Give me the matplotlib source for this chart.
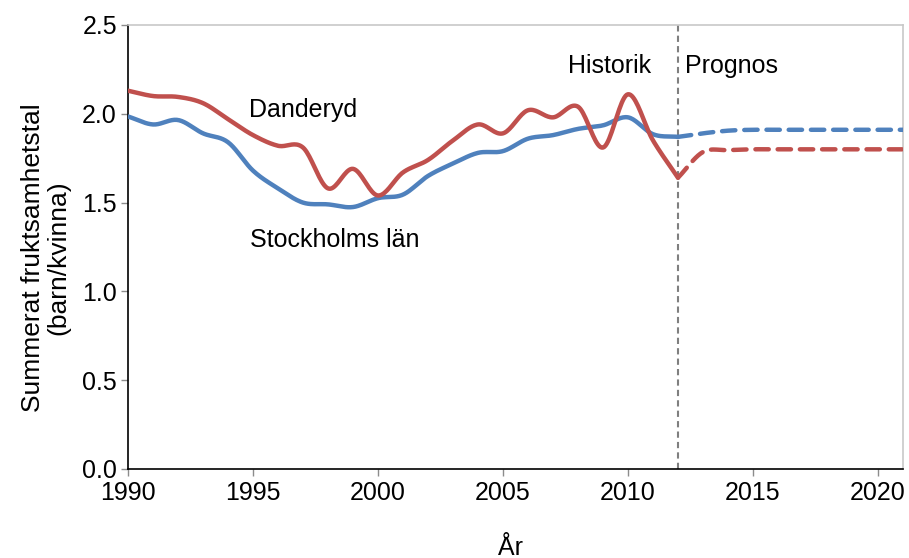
import numpy as np
import matplotlib
matplotlib.use("Agg")
import matplotlib.pyplot as plt

plt.rcParams['font.family'] = ['Liberation Sans', 'DejaVu Sans']

years_hist = [1990, 1991, 1992, 1993, 1994, 1995, 1996, 1997, 1998, 1999, 2000,
              2001, 2002, 2003, 2004, 2005, 2006, 2007, 2008, 2009, 2010, 2011, 2012]
danderyd_hist = [2.13, 2.10, 2.095, 2.06, 1.97, 1.88, 1.82, 1.81, 1.58, 1.69, 1.54,
                 1.67, 1.74, 1.85, 1.94, 1.89, 2.02, 1.98, 2.04, 1.81, 2.11, 1.85, 1.64]
stockholm_hist = [1.985, 1.94, 1.965, 1.89, 1.84, 1.68, 1.58, 1.50, 1.49, 1.475, 1.525,
                  1.545, 1.65, 1.72, 1.78, 1.79, 1.86, 1.88, 1.915, 1.935, 1.98, 1.885, 1.87]

years_prog = [2012, 2013, 2014, 2015, 2016, 2017, 2018, 2019, 2020, 2021]
danderyd_prog = [1.64, 1.785, 1.795, 1.80, 1.80, 1.80, 1.80, 1.80, 1.80, 1.80]
stockholm_prog = [1.87, 1.89, 1.905, 1.91, 1.91, 1.91, 1.91, 1.91, 1.91, 1.91]

RED = '#C0504D'
BLUE = '#4F81BD'


def smooth(x, y, n=20):
    """Catmull-Rom rendering of a smoothed line through the data points."""
    x = np.asarray(x, float)
    y = np.asarray(y, float)
    px = np.concatenate([[2 * x[0] - x[1]], x, [2 * x[-1] - x[-2]]])
    py = np.concatenate([[2 * y[0] - y[1]], y, [2 * y[-1] - y[-2]]])
    xs, ys = [], []
    t = np.linspace(0, 1, n, endpoint=False)
    for i in range(1, len(px) - 2):
        for P, out in ((px, xs), (py, ys)):
            p0, p1, p2, p3 = P[i - 1], P[i], P[i + 1], P[i + 2]
            out.extend(0.5 * ((2 * p1) + (-p0 + p2) * t
                              + (2 * p0 - 5 * p1 + 4 * p2 - p3) * t ** 2
                              + (-p0 + 3 * p1 - 3 * p2 + p3) * t ** 3))
    xs.append(x[-1])
    ys.append(y[-1])
    return np.array(xs), np.array(ys)


FS = 18

fig = plt.figure(figsize=(9.09, 5.58), dpi=100)
ax = fig.add_axes([128 / 909, 89 / 558, 775 / 909, 444 / 558])

for yrs, vals, col in ((years_hist, stockholm_hist, BLUE), (years_hist, danderyd_hist, RED)):
    sx, sy = smooth(yrs, vals)
    ax.plot(sx, sy, color=col, lw=3.2, solid_capstyle='round', zorder=3)
for yrs, vals, col in ((years_prog, stockholm_prog, BLUE), (years_prog, danderyd_prog, RED)):
    sx, sy = smooth(yrs, vals)
    ax.plot(sx, sy, color=col, lw=3.2, dashes=(3, 2), dash_capstyle='round', zorder=3)

ax.axvline(2012, color='#7F7F7F', lw=1.5, ls=(0, (3, 2)), zorder=2)

ax.set_xlim(1990, 2021)
ax.set_ylim(0, 2.5)
ax.set_xticks([1990, 1995, 2000, 2005, 2010, 2015, 2020])
ax.set_yticks([0.0, 0.5, 1.0, 1.5, 2.0, 2.5])
ax.set_yticklabels(['0.0', '0.5', '1.0', '1.5', '2.0', '2.5'])
ax.tick_params(axis='both', labelsize=FS, color='#8C8C8C', length=5, width=1, direction='out')
ax.tick_params(axis='x', pad=4)
ax.tick_params(axis='y', pad=3)
for s in ('top', 'right'):
    ax.spines[s].set_color('#C8C8C8')
    ax.spines[s].set_linewidth(1.2)
for s in ('left', 'bottom'):
    ax.spines[s].set_color('#000000')
    ax.spines[s].set_linewidth(1.2)

ax.set_ylabel('Summerat fruktsamhetstal\n(barn/kvinna)', fontsize=19, linespacing=1.05)
ax.yaxis.set_label_coords(-0.075, 0.477)
fig.text(510 / 909, 3 / 558, 'År', fontsize=FS, ha='center', va='baseline')

ax.text(1997.0, 2.02, 'Danderyd', fontsize=FS, ha='center', va='center')
ax.text(1998.28, 1.29, 'Stockholms län', fontsize=FS, ha='center', va='center')
ax.text(2009.28, 2.27, 'Historik', fontsize=FS, ha='center', va='center')
ax.text(2014.12, 2.27, 'Prognos', fontsize=FS, ha='center', va='center')

fig.savefig('out.png', dpi=100)
